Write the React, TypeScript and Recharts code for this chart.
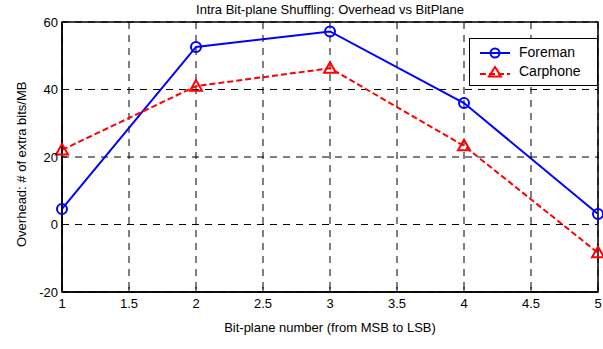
import { LineChart, Line, XAxis, YAxis, CartesianGrid, ReferenceArea } from 'recharts';

const bitPlanes = [1, 2, 3, 4, 5];
const foreman = [4.6, 52.6, 57.2, 36.0, 3.1];
const carphone = [22.1, 41.0, 46.3, 23.3, -8.4];
const xTicks = [1, 1.5, 2, 2.5, 3, 3.5, 4, 4.5, 5];
const yTicks = [-20, 0, 20, 40, 60];

const data = bitPlanes.map((b, i) => ({ plane: b, foreman: foreman[i], carphone: carphone[i] }));

const FONT = '"Liberation Sans", Arial, sans-serif';

const Triangle = (props: any) => {
  const { cx, cy, stroke } = props;
  if (cx == null || cy == null) return null;
  const s = 6;
  return (
    <path
      d={`M${cx},${cy - s} L${cx + s},${cy + s * 0.75} L${cx - s},${cy + s * 0.75} Z`}
      fill="none"
      stroke={stroke}
      strokeWidth={2}
    />
  );
};

const LegendBox = () => (
  <div style={{
    position: 'absolute', top: 38, right: 5, zIndex: 2, width: 107,
    background: '#fff', border: '1px solid #000', padding: '4px 10px 4px 10px',
    fontFamily: FONT, fontSize: 14, color: '#000', lineHeight: '19px',
  }}>
    <div style={{ display: 'flex', alignItems: 'center', gap: 9 }}>
      <svg width={30} height={12}>
        <line x1={0} y1={6} x2={30} y2={6} stroke="#0000ff" strokeWidth={2} />
        <circle cx={15} cy={6} r={4.5} fill="none" stroke="#0000ff" strokeWidth={2} />
      </svg>
      Foreman
    </div>
    <div style={{ display: 'flex', alignItems: 'center', gap: 9 }}>
      <svg width={30} height={14}>
        <line x1={0} y1={9} x2={30} y2={9} stroke="#ff0000" strokeWidth={2} strokeDasharray="6 3" />
        <path d="M15,2 L21,11.5 L9,11.5 Z" fill="none" stroke="#ff0000" strokeWidth={2} />
      </svg>
      Carphone
    </div>
  </div>
);

export default function App() {
  return (
    <div style={{ position: 'absolute', left: 0, top: 0, width: 603, height: 349, background: '#fff' }}>
      <div style={{
        position: 'absolute', top: 2, left: 62, width: 536, textAlign: 'center',
        fontFamily: FONT, fontSize: 13, color: '#000',
      }}>
        Intra Bit-plane Shuffling: Overhead vs BitPlane
      </div>
      <LineChart
        width={603}
        height={349}
        data={data}
        margin={{ top: 22, right: 5, left: 20, bottom: 27 }}
      >
        <CartesianGrid stroke="#000" strokeDasharray="7 6" strokeWidth={1} />
        <XAxis
          type="number"
          dataKey="plane"
          domain={[1, 5]}
          ticks={xTicks}
          height={30}
          tickSize={-5}
          tickMargin={12}
          axisLine={{ stroke: '#000', strokeWidth: 1.5 }}
          tickLine={{ stroke: '#000' }}
          tick={{ fill: '#000', fontSize: 13, fontFamily: FONT }}
          label={{ value: 'Bit-plane number (from MSB to LSB)', position: 'insideBottom', offset: -10, fill: '#000', fontSize: 13, fontFamily: FONT }}
        />
        <YAxis
          type="number"
          domain={[-20, 60]}
          ticks={yTicks}
          width={42}
          tickSize={-5}
          tickMargin={9}
          axisLine={{ stroke: '#000', strokeWidth: 1.5 }}
          tickLine={{ stroke: '#000' }}
          tick={{ fill: '#000', fontSize: 13, fontFamily: FONT }}
          label={{ value: 'Overhead: # of extra bits/MB', angle: -90, position: 'insideLeft', offset: 1, dy: 90, fill: '#000', fontSize: 13, fontFamily: FONT }}
        />
        <ReferenceArea x1={1} x2={5} y1={-20} y2={60} fill="none" stroke="#000" strokeWidth={1.5} />
        <Line
          dataKey="foreman"
          name="Foreman"
          stroke="#0000ff"
          strokeWidth={2}
          dot={{ r: 5, fill: 'none', stroke: '#0000ff', strokeWidth: 2 }}
          isAnimationActive={false}
        />
        <Line
          dataKey="carphone"
          name="Carphone"
          stroke="#ff0000"
          strokeWidth={2}
          strokeDasharray="6 3"
          dot={<Triangle stroke="#ff0000" />}
          isAnimationActive={false}
        />
      </LineChart>
      <LegendBox />
    </div>
  );
}
